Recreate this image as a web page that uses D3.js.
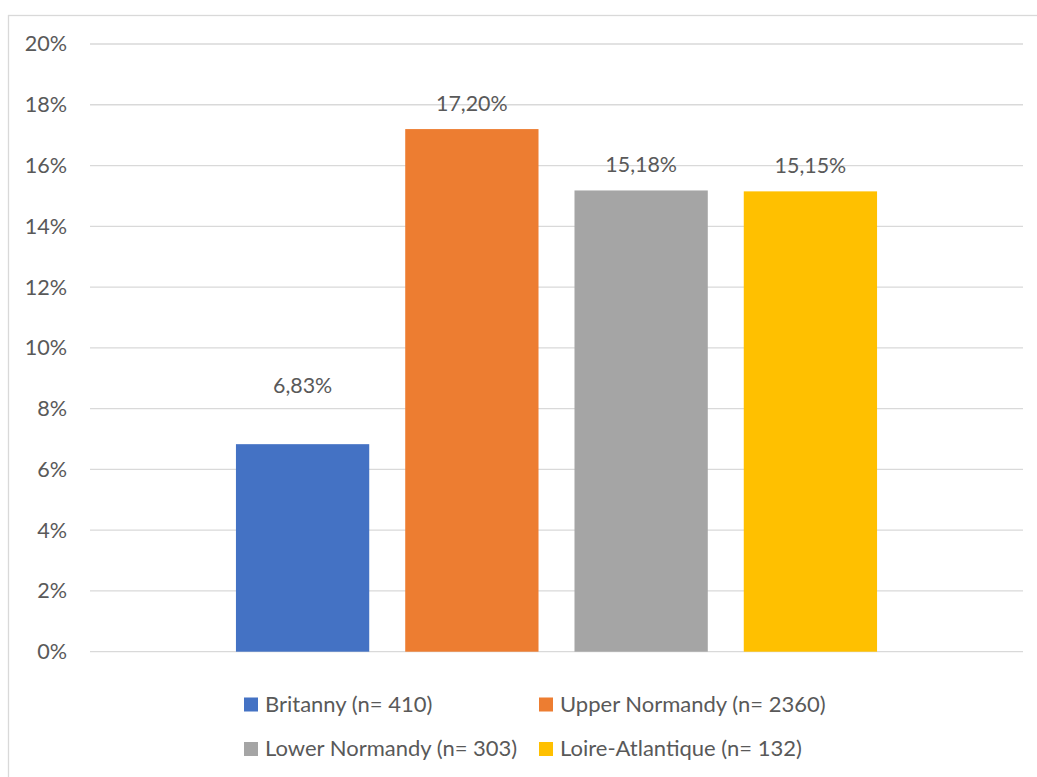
<!DOCTYPE html>
<html>
<head>
<meta charset="utf-8">
<script src="https://cdn.jsdelivr.net/npm/d3@7"></script>
<style>
  html, body { margin: 0; padding: 0; background: #fff; }
  svg { display: block; }
  text { font-family: Lato, "Open Sans", sans-serif; fill: #595959; }
</style>
</head>
<body>
<svg id="chart" width="1037" height="777"></svg>
<script>
// Series (one clustered category), their values and sample sizes
const regions = ["Britanny", "Upper Normandy", "Lower Normandy", "Loire-Atlantique"];
const sampleSizes = [410, 2360, 303, 132];
const shares = [0.0683, 0.1720, 0.1518, 0.1515];
const colors = ["#4472C4", "#ED7D31", "#A5A5A5", "#FFC000"];
const yTicks = [0, 0.02, 0.04, 0.06, 0.08, 0.10, 0.12, 0.14, 0.16, 0.18, 0.20];

const svg = d3.select("#chart");
const W = 1037, H = 777;

// Chart area frame
svg.append("rect")
  .attr("x", 8.5).attr("y", 15.5)
  .attr("width", W + 10).attr("height", H + 10)
  .attr("fill", "#fff")
  .attr("stroke", "#D9D9D9").attr("stroke-width", 1.3);

const plot = { left: 90, right: 1023, top: 44, bottom: 651.7 };

const y = d3.scaleLinear().domain([0, 0.20]).range([plot.bottom, plot.top]);

// Excel-style clustered layout: gap width 219%, series overlap -27%
const gapWidth = 2.19, seriesGap = 0.27;
const barW = (plot.right - plot.left) / (regions.length + (regions.length - 1) * seriesGap + gapWidth);
const clusterStart = plot.left + gapWidth * barW / 2;
const clusterEnd = plot.right - gapWidth * barW / 2;
const x = d3.scaleBand()
  .domain(regions)
  .range([clusterStart, clusterEnd])
  .paddingInner(seriesGap / (1 + seriesGap))
  .paddingOuter(0);

const pctTick = v => Math.round(v * 100) + "%";
const pctLabel = v => (v * 100).toFixed(2).replace(".", ",") + "%";

// Horizontal gridlines
svg.append("g")
  .selectAll("line")
  .data(yTicks)
  .join("line")
  .attr("x1", plot.left).attr("x2", plot.right)
  .attr("y1", d => y(d)).attr("y2", d => y(d))
  .attr("stroke", "#D9D9D9").attr("stroke-width", 1.3);

// Y axis labels
const yAxis = svg.append("g")
  .attr("transform", `translate(${plot.left - 23},0)`)
  .call(d3.axisLeft(y).tickValues(yTicks).tickFormat(pctTick).tickSize(0).tickPadding(0));
yAxis.select(".domain").remove();
yAxis.selectAll("text")
  .attr("font-family", "Lato, 'Open Sans', sans-serif")
  .attr("font-size", 21.6)
  .attr("fill", "#595959");

const data = regions.map((r, i) => ({ region: r, value: shares[i], color: colors[i], n: sampleSizes[i] }));

// Bars
svg.append("g")
  .selectAll("rect")
  .data(data)
  .join("rect")
  .attr("x", d => x(d.region))
  .attr("width", x.bandwidth())
  .attr("y", d => y(d.value))
  .attr("height", d => y(0) - y(d.value))
  .attr("fill", d => d.color);

// Value labels (the short Britanny bar has its label lifted higher)
const labelLift = { "Britanny": 51 };
svg.append("g")
  .selectAll("text")
  .data(data)
  .join("text")
  .attr("x", d => x(d.region) + x.bandwidth() / 2)
  .attr("y", d => y(d.value) - (labelLift[d.region] || 18))
  .attr("text-anchor", "middle")
  .attr("font-size", 21.4)
  .text(d => pctLabel(d.value));

// Legend: two rows of two entries
const legendCols = [244, 539];
const legendRows = [704.5, 749];
const legend = svg.append("g")
  .selectAll("g")
  .data(data)
  .join("g")
  .attr("transform", (d, i) => `translate(${legendCols[i % 2]},${legendRows[Math.floor(i / 2)]})`);
legend.append("rect")
  .attr("x", 0).attr("y", -7)
  .attr("width", 14).attr("height", 14)
  .attr("fill", d => d.color);
legend.append("text")
  .attr("x", 21).attr("y", 7)
  .attr("font-size", 22)
  .text(d => `${d.region} (n= ${d.n})`);
</script>
</body>
</html>
